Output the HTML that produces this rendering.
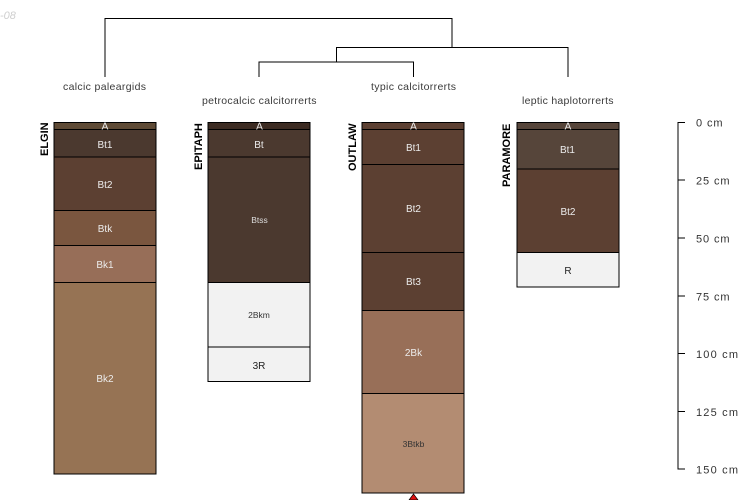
<!DOCTYPE html>
<html><head><meta charset="utf-8"><style>
html,body{margin:0;padding:0;background:#fff}
svg{display:block}
text{font-family:"Liberation Sans",sans-serif}
.l{font-size:10.5px;fill:#3a3a3a}
.h{font-size:10px;fill:#ececec;text-anchor:middle}
.s{font-size:8.500px;text-anchor:middle}
.n{font-size:11px;font-weight:bold;fill:#000}
.d{font-size:11px;fill:#333}
rect{stroke:#000;stroke-width:1}
path{fill:none;stroke:#000;stroke-width:1}
</style></head><body>
<svg width="750" height="500" viewBox="0 0 750 500" xmlns="http://www.w3.org/2000/svg">
<text x="0" y="19" font-size="11" font-style="italic" fill="#cfcfcf">-08</text>
<path d="M105 77V18.500H452V47.500"/>
<path d="M336.500 62V47.500H568V77"/>
<path d="M259 77V62H413.500V77"/>
<text class="l" x="63" y="90" textLength="83" lengthAdjust="spacing">calcic paleargids</text>
<text class="l" x="202" y="104" textLength="114.500" lengthAdjust="spacing">petrocalcic calcitorrerts</text>
<text class="l" x="371" y="90" textLength="85" lengthAdjust="spacing">typic calcitorrerts</text>
<text class="l" x="522" y="104" textLength="91.500" lengthAdjust="spacing">leptic haplotorrerts</text>

<g>
<rect x="54" y="122.500" width="102" height="7" fill="#5e4a35"/>
<rect x="54" y="129.500" width="102" height="27.500" fill="#4b392f"/>
<rect x="54" y="157" width="102" height="53.500" fill="#5c4032"/>
<rect x="54" y="210.500" width="102" height="35" fill="#7a563f"/>
<rect x="54" y="245.500" width="102" height="37" fill="#976e58"/>
<rect x="54" y="282.500" width="102" height="191.500" fill="#967354"/>
<text class="h" x="105" y="129.500">A</text>
<text class="h" x="105" y="148">Bt1</text>
<text class="h" x="105" y="188">Bt2</text>
<text class="h" x="105" y="232">Btk</text>
<text class="h" x="105" y="268">Bk1</text>
<text class="h" x="105" y="382">Bk2</text>
<text class="n" transform="translate(48 156) rotate(-90)">ELGIN</text>
</g>

<g>
<rect x="208" y="122.500" width="102" height="7" fill="#3c2b22"/>
<rect x="208" y="129.500" width="102" height="27.500" fill="#4b392f"/>
<rect x="208" y="157" width="102" height="125.500" fill="#4b392f"/>
<rect x="208" y="282.500" width="102" height="64.500" fill="#f2f2f2"/>
<rect x="208" y="347" width="102" height="34.500" fill="#f2f2f2"/>
<text class="h" x="259.500" y="129.500">A</text>
<text class="h" x="259" y="148">Bt</text>
<text class="s" x="259.500" y="223" fill="#ddd">Btss</text>
<text class="s" x="259" y="318" fill="#333">2Bkm</text>
<text class="h" x="259" y="369" style="fill:#222">3R</text>
<text class="n" transform="translate(202 170) rotate(-90)">EPITAPH</text>
</g>

<g>
<rect x="362" y="122.500" width="102" height="7" fill="#5c4032"/>
<rect x="362" y="129.500" width="102" height="35" fill="#5c4032"/>
<rect x="362" y="164.500" width="102" height="88" fill="#5c4032"/>
<rect x="362" y="252.500" width="102" height="58" fill="#5c4032"/>
<rect x="362" y="310.500" width="102" height="83" fill="#986f58"/>
<rect x="362" y="393.500" width="102" height="99.500" fill="#b38c72"/>
<text class="h" x="413.500" y="129.500">A</text>
<text class="h" x="413.500" y="151">Bt1</text>
<text class="h" x="413.500" y="212">Bt2</text>
<text class="h" x="413.500" y="285">Bt3</text>
<text class="h" x="413.500" y="356">2Bk</text>
<text class="s" x="413.500" y="447" fill="#333">3Btkb</text>
<text class="n" transform="translate(356 171) rotate(-90)">OUTLAW</text>
<polygon points="413.500,494 409,500 418,500" fill="#e01010" stroke="#000" stroke-width="0.700"/>
</g>

<g>
<rect x="517" y="122.500" width="102" height="7" fill="#56453a"/>
<rect x="517" y="129.500" width="102" height="39.500" fill="#56453a"/>
<rect x="517" y="169" width="102" height="83.500" fill="#5c4032"/>
<rect x="517" y="252.500" width="102" height="34.500" fill="#f2f2f2"/>
<text class="h" x="568" y="129.500">A</text>
<text class="h" x="567.500" y="153">Bt1</text>
<text class="h" x="568" y="215">Bt2</text>
<text class="h" x="568" y="274" style="fill:#222">R</text>
<text class="n" transform="translate(510 187) rotate(-90)">PARAMORE</text>
</g>

<path d="M685 122.500H678V469H685M678 180H685M678 238H685M678 296H685M678 353.500H685M678 411.500H685" stroke="#222"/>
<text x="696" y="126.500" class="d" textLength="26.500" lengthAdjust="spacing">0 cm</text>
<text x="696" y="184.500" class="d" textLength="33.500" lengthAdjust="spacing">25 cm</text>
<text x="696" y="242.500" class="d" textLength="33.500" lengthAdjust="spacing">50 cm</text>
<text x="696" y="300.500" class="d" textLength="33.500" lengthAdjust="spacing">75 cm</text>
<text x="696" y="358" class="d" textLength="42" lengthAdjust="spacing">100 cm</text>
<text x="696" y="416" class="d" textLength="42" lengthAdjust="spacing">125 cm</text>
<text x="696" y="473.500" class="d" textLength="42" lengthAdjust="spacing">150 cm</text>
</svg>
</body></html>
